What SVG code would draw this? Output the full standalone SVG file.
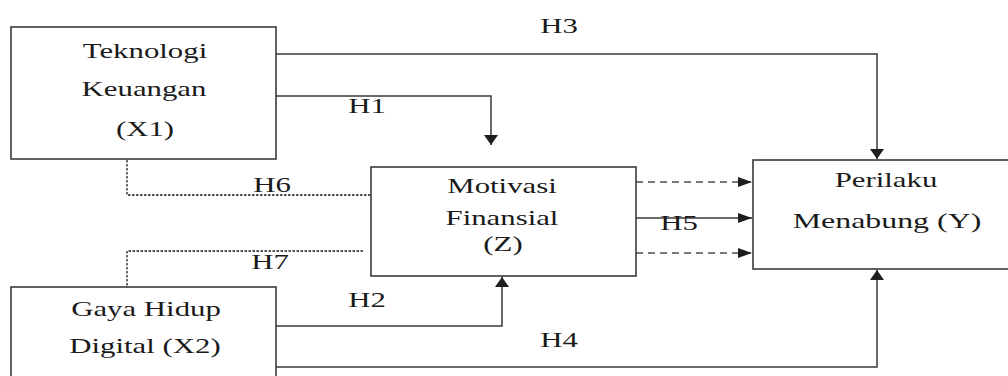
<svg xmlns="http://www.w3.org/2000/svg" width="1008" height="376" viewBox="0 0 1008 376">
<style>
.box{fill:#fff;stroke:#3a3a3a;stroke-width:1.6}
.t{font-family:'Liberation Serif','Times New Roman',Times,serif;font-size:22px;fill:#1a1a1a;text-anchor:middle}
.c{fill:none;stroke:#3a3a3a;stroke-width:1.5}
.g{fill:none;stroke:#6a6a6a;stroke-width:2}
.dot{fill:none;stroke:#1a1a1a;stroke-width:1.3;stroke-dasharray:2.5 1.5}
.dash{fill:none;stroke:#7a7a7a;stroke-width:2;stroke-dasharray:7 5}
</style>
<defs>
<marker id="ah" markerUnits="userSpaceOnUse" markerWidth="15" markerHeight="11" refX="14" refY="5" orient="auto"><path d="M0,0 L14,5 L0,10 z" fill="#1e1e1e"/></marker>
<marker id="av" markerUnits="userSpaceOnUse" markerWidth="11" markerHeight="15" refX="10" refY="7" orient="auto"><path d="M0,0 L10,7 L0,14 z" fill="#1e1e1e"/></marker>
</defs>
<rect width="1008" height="376" fill="#fff"/>
<g id="connectors">
<path class="c" d="M276,54 H877 V159" marker-end="url(#av)"/>
<path class="c" d="M276,96 H491 V145" marker-end="url(#av)"/>
<path class="c" d="M276,326 H502 V277" marker-end="url(#av)"/>
<path class="c" d="M276,367 H877 V270" marker-end="url(#av)"/>
<path class="g" d="M636,218 H752" marker-end="url(#ah)"/>
<path class="dash" d="M636,182 H752" marker-end="url(#ah)"/>
<path class="dash" d="M636,253 H752" marker-end="url(#ah)"/>
<path class="dot" d="M127,140 V195 H371"/>
<path class="dot" d="M363,251 H127 V302"/>
<text class="t" transform="translate(559,33) scale(1.4,1)">H3</text>
<text class="t" transform="translate(367,113) scale(1.4,1)">H1</text>
<text class="t" transform="translate(272,192) scale(1.4,1)">H6</text>
<text class="t" transform="translate(270,269) scale(1.4,1)">H7</text>
<text class="t" transform="translate(367,307) scale(1.4,1)">H2</text>
<text class="t" transform="translate(559,347) scale(1.4,1)">H4</text>
<text class="t" transform="translate(679,230) scale(1.4,1)">H5</text>
</g>
<g id="x1">
<rect class="box" x="11" y="27" width="265" height="132"/>
<text class="t" transform="translate(145,58) scale(1.4,1)">Teknologi</text>
<text class="t" transform="translate(144,96) scale(1.4,1)">Keuangan</text>
<text class="t" transform="translate(145,136) scale(1.4,1)">(X1)</text>
</g>
<g id="z">
<rect class="box" x="371" y="167" width="265" height="109"/>
<text class="t" transform="translate(502,193) scale(1.4,1)">Motivasi</text>
<text class="t" transform="translate(502,225) scale(1.4,1)">Finansial</text>
<text class="t" transform="translate(503,251) scale(1.4,1)">(Z)</text>
</g>
<g id="y">
<rect class="box" x="753" y="160" width="280" height="109"/>
<text class="t" transform="translate(886,187) scale(1.4,1)">Perilaku</text>
<text class="t" transform="translate(887,228) scale(1.45,1)">Menabung (Y)</text>
</g>
<g id="x2">
<rect class="box" x="11" y="287" width="265" height="110"/>
<text class="t" transform="translate(146,316) scale(1.4,1)">Gaya Hidup</text>
<text class="t" transform="translate(145,353) scale(1.4,1)">Digital (X2)</text>
</g>
</svg>
